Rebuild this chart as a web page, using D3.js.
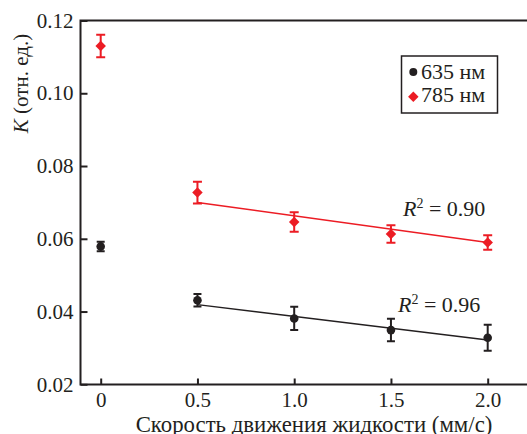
<!DOCTYPE html>
<html>
<head>
<meta charset="utf-8">
<script src="https://cdn.jsdelivr.net/npm/d3@7"></script>
</head>
<body style="margin:0; background:#fff">
<svg id="chart" width="527" height="434" style="display:block" font-family="Liberation Serif"></svg>
<script>
// Data
var speed = [0, 0.5, 1.0, 1.5, 2.0];
var k635 = [0.0579, 0.0431, 0.0381, 0.0349, 0.0328];
var err635 = [0.0013, 0.0017, 0.0032, 0.0031, 0.0036];
var k785 = [0.1130, 0.0727, 0.0646, 0.0613, 0.0590];
var err785 = [0.0031, 0.0030, 0.0027, 0.0024, 0.0020];

// Fitted lines (from 0.5 to 2.0 mm/s)
var fitX = [0.5, 2.0];
var fit635 = [0.0419, 0.0322];
var fit785 = [0.0700, 0.0590];

var xTicks = [0, 0.5, 1.0, 1.5, 2.0];
var xTickLabels = ["0", "0.5", "1.0", "1.5", "2.0"];
var yTicks = [0.02, 0.04, 0.06, 0.08, 0.10, 0.12];

var black = "#231f20", red = "#ec1c24";
var fontName = "'Liberation Serif'";

var svg = d3.select("#chart");

// Scales
var x = d3.scaleLinear().domain([0, 2]).range([100.7, 487.7]);
var y = d3.scaleLinear().domain([0.02, 0.12]).range([384.3, 20.5]);

// Frame (right side runs off the picture)
svg.append("path")
    .attr("d", "M540,20.5H80.5V384.5H540")
    .attr("fill", "none")
    .attr("stroke", black)
    .attr("stroke-width", 2);

// Axes with inward ticks
var yAxis = svg.append("g")
    .attr("transform", "translate(80.5,0)")
    .call(d3.axisLeft(y).tickValues(yTicks).tickFormat(d3.format(".2f"))
        .tickSizeInner(-7).tickSizeOuter(0).tickPadding(7));
yAxis.attr("font-family", null);
yAxis.select(".domain").remove();
yAxis.selectAll("line").attr("stroke", black).attr("stroke-width", 2);
yAxis.selectAll("text").attr("font-size", 21).style("font-family", fontName).attr("fill", black);

var xAxis = svg.append("g")
    .attr("transform", "translate(0,384.5)")
    .call(d3.axisBottom(x).tickValues(xTicks).tickFormat(function(d, i) { return xTickLabels[i]; })
        .tickSizeInner(-6).tickSizeOuter(0).tickPadding(8));
xAxis.attr("font-family", null);
xAxis.select(".domain").remove();
xAxis.selectAll("line").attr("stroke", black).attr("stroke-width", 2);
xAxis.selectAll("text").attr("font-size", 21).style("font-family", fontName).attr("fill", black);

// Axis titles
var yTitle = svg.append("text")
    .attr("transform", "translate(27.5,83.5) rotate(-90)")
    .attr("text-anchor", "middle")
    .attr("font-size", 21)
    .attr("fill", black)
    .style("font-family", fontName);
yTitle.append("tspan").attr("font-style", "italic").text("K");
yTitle.append("tspan").text(" (отн. ед.)");

svg.append("text")
    .attr("x", 314)
    .attr("y", 431.5)
    .attr("text-anchor", "middle")
    .attr("font-size", 22.8)
    .attr("fill", black)
    .style("font-family", fontName)
    .text("Скорость движения жидкости (мм/с)");

// Fit lines
var line = d3.line().x(function(d) { return x(d[0]); }).y(function(d) { return y(d[1]); });
svg.append("path")
    .attr("d", line(d3.zip(fitX, fit635)))
    .attr("fill", "none").attr("stroke", black).attr("stroke-width", 1.5);
svg.append("path")
    .attr("d", line(d3.zip(fitX, fit785)))
    .attr("fill", "none").attr("stroke", red).attr("stroke-width", 1.5);

// Error bars
function errorBars(vals, errs, color, cap) {
    var g = svg.append("g").attr("stroke", color).attr("stroke-width", 2).attr("fill", "none");
    speed.forEach(function(s, i) {
        var cx = x(s), y0 = y(vals[i] - errs[i]), y1 = y(vals[i] + errs[i]);
        g.append("path")
            .attr("d", "M" + cx + "," + y0 + "V" + y1 +
                "M" + (cx - cap / 2) + "," + y0 + "H" + (cx + cap / 2) +
                "M" + (cx - cap / 2) + "," + y1 + "H" + (cx + cap / 2));
    });
}
errorBars(k635, err635, black, 8);
errorBars(k785, err785, red, 9);

// Markers
var diamond = d3.symbol().type(d3.symbolDiamond2).size(70);
svg.append("g").selectAll("circle")
    .data(speed)
    .enter().append("circle")
    .attr("cx", function(d) { return x(d); })
    .attr("cy", function(d, i) { return y(k635[i]); })
    .attr("r", 4.3)
    .attr("fill", black);
svg.append("g").selectAll("path")
    .data(speed)
    .enter().append("path")
    .attr("d", diamond)
    .attr("transform", function(d, i) { return "translate(" + x(d) + "," + y(k785[i]) + ")"; })
    .attr("fill", red);

// R^2 labels
function r2Label(px, py, val) {
    var t = svg.append("text").attr("x", px).attr("y", py).attr("font-size", 22)
        .attr("fill", black).style("font-family", fontName);
    t.append("tspan").attr("font-style", "italic").text("R");
    t.append("tspan").attr("dy", -8).attr("font-size", 14).text("2");
    t.append("tspan").attr("dy", 8).text(" = " + val);
}
r2Label(403, 216, "0.90");
r2Label(398, 312.3, "0.96");

// Legend
svg.append("rect")
    .attr("x", 401.5).attr("y", 56)
    .attr("width", 96).attr("height", 57)
    .attr("fill", "#fff").attr("stroke", black).attr("stroke-width", 1.5);
svg.append("circle").attr("cx", 413.3).attr("cy", 72).attr("r", 4).attr("fill", black);
svg.append("path").attr("d", diamond).attr("transform", "translate(413.3,96.7)").attr("fill", red);
svg.append("text").attr("x", 421).attr("y", 78.5).attr("font-size", 22).attr("fill", black)
    .style("font-family", fontName).text("635 нм");
svg.append("text").attr("x", 421).attr("y", 102).attr("font-size", 22).attr("fill", black)
    .style("font-family", fontName).text("785 нм");
</script>
</body>
</html>
